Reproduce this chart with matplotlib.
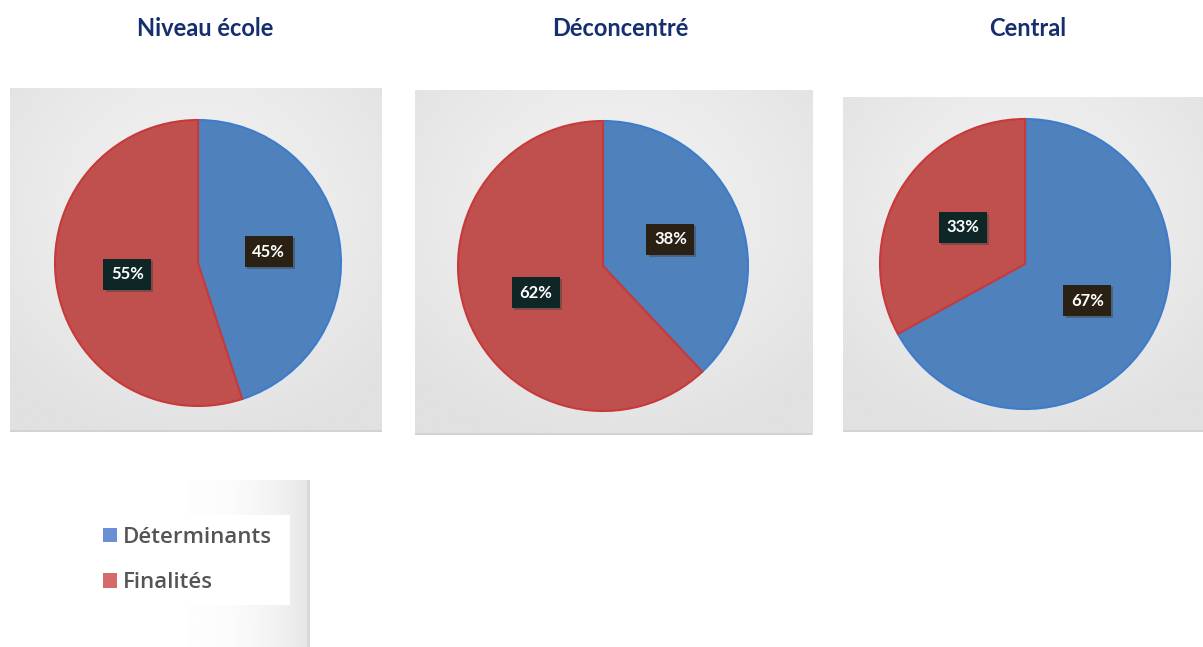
import numpy as np
import matplotlib
matplotlib.use('Agg')
import matplotlib.pyplot as plt
from matplotlib.patches import Patch, Rectangle
import matplotlib.patheffects as pe

# Donnees
titres = ['Niveau école', 'Déconcentré', 'Central']
categories = ['Déterminants', 'Finalités']
determinants = [45, 38, 67]
finalites = [55, 62, 33]

couleurs = ['#4F81BD', '#C0504D']
bords = ['#3D7CCB', '#C8393A']
fonds_etiq = ['#2a2014', '#0f2626']

W, H = 1203, 647
fig = plt.figure(figsize=(W/100, H/100), dpi=100)
fig.patch.set_facecolor('white')

def px_axes(x0, y0, x1, y1, **kw):
    '''axes a partir de coordonnees pixel (origine en haut a gauche)'''
    return fig.add_axes([x0/W, 1-y1/H, (x1-x0)/W, (y1-y0)/H], **kw)

def fond_gris(ax):
    yy, xx = np.mgrid[-1:1:200j, -1:1:200j]
    d = np.sqrt(xx**2 + (yy+0.3)**2)
    img = 0.945 - 0.065*np.clip(d/1.4, 0, 1)**1.5
    ax.imshow(img, cmap='gray', vmin=0, vmax=1, extent=(0, 1, 0, 1),
              aspect='auto', origin='upper', interpolation='bicubic')
    ax.add_patch(Rectangle((0, 0), 1, 0.007, color='#d2d2d2', lw=0))
    ax.set_xlim(0, 1)
    ax.set_ylim(0, 1)
    ax.axis('off')

panneaux = [(10, 88, 382, 432), (415, 90, 812, 435), (843, 97, 1203, 432)]
centres = [(198, 263, 143), (603, 266, 145), (1025, 264, 145)]
titres_x = [205, 620, 1028]

for k in range(3):
    x0, y0, x1, y1 = panneaux[k]
    axb = px_axes(x0, y0, x1, y1)
    axb.set_zorder(0)
    fond_gris(axb)

    cx, cy, r = centres[k]
    ax = px_axes(cx-r, cy-r, cx+r, cy+r)
    ax.set_zorder(1)
    vals = [determinants[k], finalites[k]]
    wedges, txts, autos = ax.pie(vals, colors=couleurs, startangle=90,
                                 counterclock=False, radius=1,
                                 autopct='%.0f%%', pctdistance=0.5,
                                 wedgeprops=dict(linewidth=1.5),
                                 textprops=dict(color='white', fontsize=12,
                                                fontweight='bold', family='Lato'))
    for w, b in zip(wedges, bords):
        w.set_edgecolor(b)
    for t, fc in zip(autos, fonds_etiq):
        t.set_bbox(dict(boxstyle='square,pad=0.45', fc=fc, ec='none'))
        t.get_bbox_patch().set_path_effects([pe.withSimplePatchShadow(offset=(1.5, -1.5), shadow_rgbFace='#444444', alpha=0.5)])
    ax.set_xlim(-1, 1)
    ax.set_ylim(-1, 1)
    ax.set_aspect('equal')
    ax.axis('off')

    fig.text(titres_x[k]/W, 1-28/H, titres[k], ha='center', va='center',
             fontsize=17, fontweight='bold', color='#142E6E', family='Lato')

# cadre de legende
axl = px_axes(90, 480, 310, 647)
grad = np.tile(np.linspace(0, 1, 200), (100, 1))
axl.imshow(1 - 0.1*grad**4, cmap='gray', vmin=0, vmax=1, extent=(0, 1, 0, 1),
           aspect='auto', interpolation='bicubic')
axl.add_patch(Rectangle((0.988, 0), 0.012, 1, color='#d9d9d9', lw=0))
axl.add_patch(Rectangle((5/220, (647-605)/167), 195/220, 90/167, color='white', lw=0))
axl.set_xlim(0, 1)
axl.set_ylim(0, 1)
axl.axis('off')

poignees = [Patch(facecolor=c, edgecolor='none') for c in ['#6A8FD4', '#D46A6A']]
leg = fig.legend(poignees, categories, loc='center left',
                 bbox_to_anchor=(83/W, 1-560/H), frameon=False,
                 handlelength=0.65, handleheight=0.65, handletextpad=0.25,
                 labelspacing=1.1, prop=dict(family='Open Sans', size=16, weight='semibold'))
for t in leg.get_texts():
    t.set_color('#555555')

fig.savefig('out.png', dpi=100, facecolor='white')
